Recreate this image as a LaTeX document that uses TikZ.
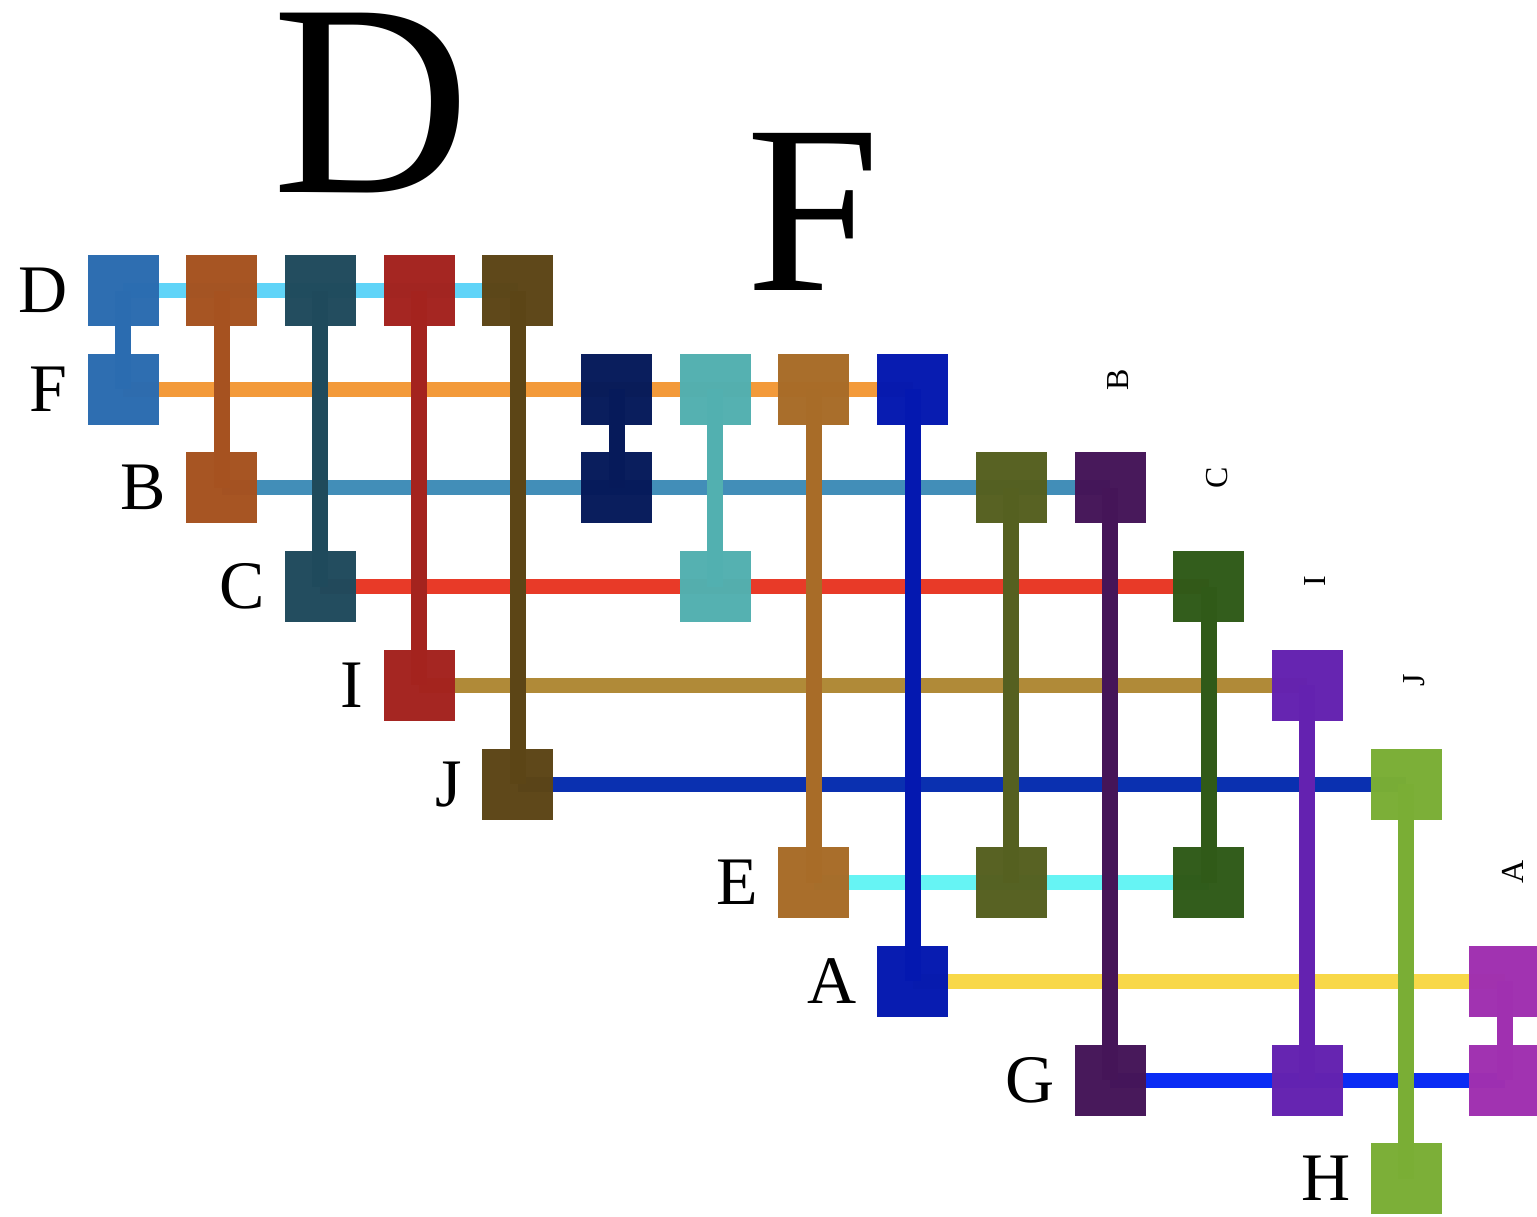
\documentclass[tikz,border=0pt]{standalone}
\usepackage{fontspec}
\setmainfont{Liberation Serif}
\pgfdeclarelayer{bg}
\pgfsetlayers{bg,main}
% square / column colours
\definecolor{c0}{HTML}{2B6CB0}
\definecolor{c1}{HTML}{A65220}
\definecolor{c2}{HTML}{1F4A5C}
\definecolor{c3}{HTML}{A4231E}
\definecolor{c4}{HTML}{5C4516}
\definecolor{c5}{HTML}{061A5A}
\definecolor{c6}{HTML}{52B0B0}
\definecolor{c7}{HTML}{A86C28}
\definecolor{c8}{HTML}{0418B0}
\definecolor{c9}{HTML}{556020}
\definecolor{c10}{HTML}{451558}
\definecolor{c11}{HTML}{305A18}
\definecolor{c12}{HTML}{6422B0}
\definecolor{c13}{HTML}{7AAE35}
\definecolor{c14}{HTML}{A030B0}
% row line colours
\definecolor{r0}{HTML}{60D4F8}
\definecolor{r1}{HTML}{F39A3A}
\definecolor{r2}{HTML}{428EB8}
\definecolor{r3}{HTML}{E83A28}
\definecolor{r4}{HTML}{B08A38}
\definecolor{r5}{HTML}{0A30B0}
\definecolor{r6}{HTML}{66F4F4}
\definecolor{r7}{HTML}{F8D848}
\definecolor{r8}{HTML}{0A2CF4}
\begin{document}
\begin{tikzpicture}[x=1pt,y=-1pt,
  sq/.style={draw=none,fill opacity=0.985,minimum size=71pt,inner sep=0pt,outer sep=0pt},
  hline/.style={line width=15pt},
  vline/.style={line width=16pt},
  rowlbl/.style={font=\fontsize{68}{70}\selectfont,anchor=base east,inner sep=0pt},
  collbl/.style={font=\fontsize{32}{34}\selectfont,rotate=90,anchor=base,inner sep=0pt},
  biglbl/.style={anchor=base west,inner sep=0pt}]
\useasboundingbox (0,0) rectangle (1537,1216);
\clip (0,0) rectangle (1537,1216);
% squares
\foreach \c/\r in {0/0,0/1,1/0,1/2,2/0,2/3,3/0,3/4,4/0,4/5,5/1,5/2,6/1,6/3,7/1,7/6,8/1,8/7,9/2,9/6,10/2,10/8,11/3,11/6,12/4,12/8,13/5,13/9,14/7,14/8}
  \node[sq,fill=c\c] (s\c-\r) at ({123+98.7*\c},{290.5+98.7*\r}) {};
% lines underneath
\begin{pgfonlayer}{bg}
\foreach \r/\a/\b in {0/0/4,1/0/8,2/1/10,3/2/11,4/3/12,5/4/13,6/7/11,7/8/14,8/10/14}
  \draw[hline,draw=r\r] (s\a-\r.center) -- (s\b-\r.center);
\foreach \c/\a/\b in {0/0/1,1/0/2,2/0/3,3/0/4,4/0/5,5/1/2,6/1/3,7/1/6,8/1/7,9/2/6,10/2/8,11/3/6,12/4/8,13/5/9,14/7/8}
  \draw[vline,draw=c\c] (s\c-\a.center) -- (s\c-\b.center);
\end{pgfonlayer}
% row labels
\node[rowlbl] (lD) at ([xshift=-20pt,yshift=-22pt]s0-0.west) {D};
\node[rowlbl] (lF) at ([xshift=-20pt,yshift=-22pt]s0-1.west) {F};
\node[rowlbl] (lB) at ([xshift=-20pt,yshift=-22pt]s1-2.west) {B};
\node[rowlbl] (lC) at ([xshift=-20pt,yshift=-22pt]s2-3.west) {C};
\node[rowlbl] (lI) at ([xshift=-20pt,yshift=-22pt]s3-4.west) {I};
\node[rowlbl] (lJ) at ([xshift=-20pt,yshift=-22pt]s4-5.west) {J};
\node[rowlbl] (lE) at ([xshift=-20pt,yshift=-22pt]s7-6.west) {E};
\node[rowlbl] (lA) at ([xshift=-20pt,yshift=-22pt]s8-7.west) {A};
\node[rowlbl] (lG) at ([xshift=-20pt,yshift=-22pt]s10-8.west) {G};
\node[rowlbl] (lH) at ([xshift=-20pt,yshift=-22pt]s13-9.west) {H};
% column labels (rotated)
\node[collbl] (kB) at (1128,380) {B};
\node[collbl] (kC) at (1227,478) {C};
\node[collbl] (kI) at (1325,581) {I};
\node[collbl] (kJ) at (1424,680) {J};
\node[collbl] (kA) at (1523,872) {A};
% big labels
\node[biglbl,font=\fontsize{274}{276}\selectfont] (bD) at (272,192) {D};
\node[biglbl,font=\fontsize{240}{242}\selectfont] (bF) at (746,290) {F};
\end{tikzpicture}
\end{document}
